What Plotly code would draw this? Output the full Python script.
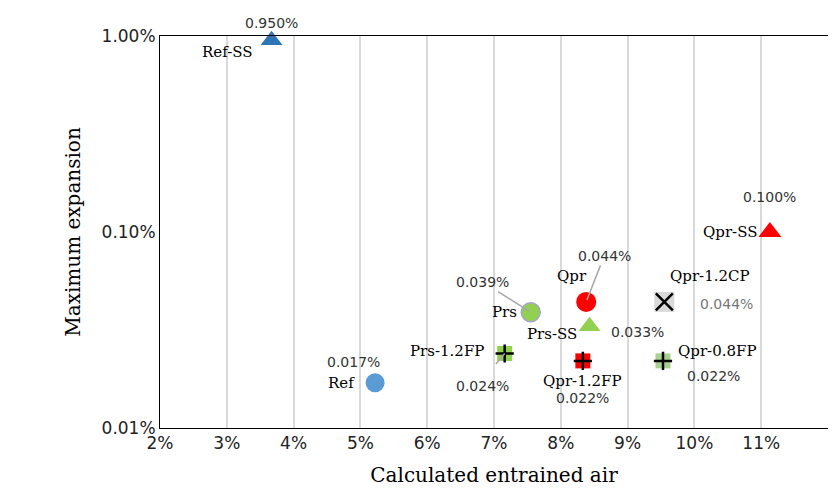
import math
import plotly.graph_objects as go

names = ["Ref-SS", "Ref", "Prs-1.2FP", "Prs", "Qpr", "Prs-SS", "Qpr-1.2FP", "Qpr-1.2CP", "Qpr-0.8FP", "Qpr-SS"]
air = [3.67, 5.22, 7.16, 7.55, 8.38, 8.43, 8.33, 9.55, 9.53, 11.13]
expansion = [0.95, 0.017, 0.024, 0.039, 0.044, 0.033, 0.022, 0.044, 0.022, 0.10]
value_text = ["0.950%", "0.017%", "0.024%", "0.039%", "0.044%", "0.033%", "0.022%", "0.044%", "0.022%", "0.100%"]

symbols = ["triangle-up", "circle", "square", "circle", "circle", "triangle-up", "square", "square", "square", "triangle-up"]
colors = ["#2e75b6", "#5b9bd5", "#92d050", "#92d050", "#ff0000", "#92d050", "#ff0000", "#d9d9d9", "#a9d18e", "#ff0000"]
sizes = [19, 19, 15, 19, 20, 19, 15, 20, 15, 20]
lines = [0, 0, 0, 1.5, 0, 0, 0, 0, 0, 0]

# name label offsets (px) and value label offsets (px)
name_off = [(-44, -12), (-34, 0), (-58, 2), (-26, 0), (-14, 26), (-38, -8), (0, -20), (46, 26), (54, 10), (-40, 0)]
val_off = [(0, 17), (-22, 21), (-22, -33), None, None, (48, -6), (0, -37), (62, -2), (50, -15), (0, 35)]
val_color = ["#333"] * 7 + ["#777"] + ["#333"] * 2

ly = [math.log10(v) for v in expansion]

fig = go.Figure()
fig.add_trace(go.Scatter(
    x=air, y=expansion, mode="markers", cliponaxis=False,
    marker=dict(symbol=symbols, color=colors, size=sizes, opacity=1,
                line=dict(width=lines, color="#a6a6c8")),
    hoverinfo="skip"))
# cross overlays
cross_idx = [2, 6, 8]
fig.add_trace(go.Scatter(
    x=[air[i] for i in cross_idx], y=[expansion[i] for i in cross_idx], mode="markers",
    marker=dict(symbol="cross-thin", size=13, opacity=1, line=dict(width=2.5, color="black")),
    hoverinfo="skip"))
fig.add_trace(go.Scatter(
    x=[air[7]], y=[expansion[7]], mode="markers",
    marker=dict(symbol="x-thin", size=17, opacity=1, line=dict(width=2.5, color="black")),
    hoverinfo="skip"))

for i, n in enumerate(names):
    fig.add_annotation(x=air[i], y=ly[i], text=n, showarrow=False,
                       xshift=name_off[i][0], yshift=name_off[i][1],
                       font=dict(family="DejaVu Serif", size=15, color="black"))
    if val_off[i] is not None:
        fig.add_annotation(x=air[i], y=ly[i], text=value_text[i], showarrow=False,
                           xshift=val_off[i][0], yshift=val_off[i][1],
                           font=dict(family="DejaVu Sans", size=14, color=val_color[i]))

# values with leader lines
for i, ax, ay in [(3, -48, -30), (4, 18, -46)]:
    fig.add_annotation(x=air[i], y=ly[i], text=value_text[i], showarrow=True,
                       arrowhead=0, arrowcolor="#a6a6a6", arrowwidth=1.5, ax=ax, ay=ay,
                       standoff=2, font=dict(family="DejaVu Sans", size=14, color="#333"))
fig.add_annotation(x=air[2], y=ly[2], text="", showarrow=True, arrowhead=0,
                   arrowcolor="#a6a6a6", arrowwidth=1.5, ax=-10, ay=12)

fig.update_xaxes(range=[2, 12], dtick=1, ticksuffix="%", showgrid=True, gridcolor="#d9d9d9",
                 gridwidth=1.5, zeroline=False, showline=True, linecolor="black", mirror=True,
                 tickfont=dict(family="DejaVu Sans", size=17, color="#222"),
                 title=dict(text="Calculated entrained air", font=dict(family="DejaVu Serif", size=20, color="black")))
fig.update_yaxes(type="log", range=[-2, 0], tickvals=[0.01, 0.1, 1],
                 ticktext=["0.01%", "0.10%", "1.00%"], showgrid=False, showline=True,
                 linecolor="black", mirror=True,
                 tickfont=dict(family="DejaVu Sans", size=17, color="#222"),
                 title=dict(text="Maximum expansion", font=dict(family="DejaVu Serif", size=20, color="black")))
fig.update_layout(width=836, height=504, margin=dict(l=152, r=16, t=28, b=84),
                  plot_bgcolor="white", paper_bgcolor="white", showlegend=False)
fig.write_html("out.html")
